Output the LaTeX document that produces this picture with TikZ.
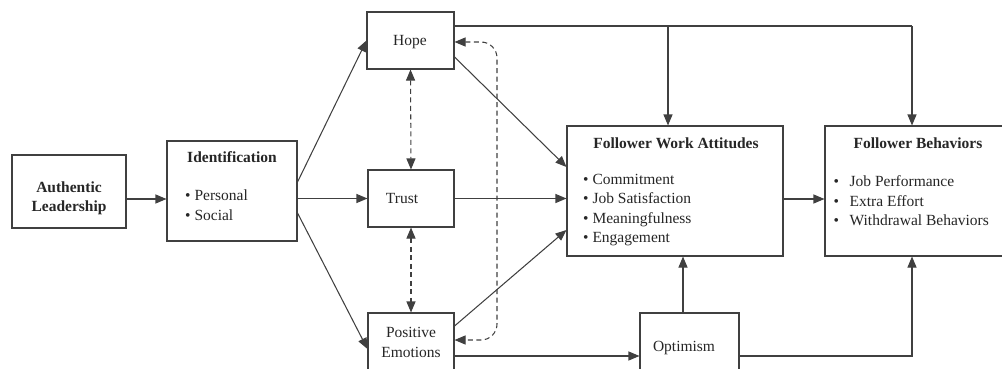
\documentclass[tikz,border=0pt]{standalone}
\usepackage{fontspec}
\setmainfont{Liberation Serif}
\usetikzlibrary{arrows.meta,calc}
\tikzset{
  ln/.style={draw=black!75, line width=1.05pt},
  arr/.style={ln, -{Triangle[length=11pt,width=9pt]}},
  darr/.style={ln, dash pattern=on 5pt off 3.5pt, {Triangle[length=11pt,width=9pt]}-{Triangle[length=11pt,width=9pt]}},
  box/.style={ln, fill=white, inner sep=0pt},
  txt/.style={text=black!85, font=\fontsize{15.5}{19.5}\selectfont, inner sep=0pt},
  ttl/.style={txt, font=\fontsize{15.5}{19.5}\selectfont\bfseries},
  lst/.style={txt, align=left, anchor=west},
}
\begin{document}
\begin{tikzpicture}[x=1pt,y=-1pt]
\useasboundingbox (0,0) rectangle (1002,369);
\begin{scope}
\clip (0,0) rectangle (1002,369);
% boxes
\node[box, minimum width=114pt, minimum height=73pt] (al) at (69,191.5) {};
\node[box, minimum width=130pt, minimum height=100pt] (id) at (232,191) {};
\node[box, minimum width=87pt, minimum height=57pt] (hope) at (410.5,40.5) {};
\node[box, minimum width=86pt, minimum height=57pt] (trust) at (411,198.5) {};
\node[box, minimum width=86pt, minimum height=64pt] (pe) at (411,345) {};
\node[box, minimum width=216pt, minimum height=130pt] (fwa) at (675,191) {};
\node[box, minimum width=178pt, minimum height=130pt] (fb) at (914,191) {};
\node[box, minimum width=99pt, minimum height=64pt] (opt) at (689.5,345) {};

% texts
\node[ttl, align=center] (alt) at (69,198.5) {Authentic\\Leadership};
\node[ttl] (idt) at (232,157) {Identification};
\node[lst] (idl) at (185,205) {• Personal\\• Social};
\node[txt] (hopet) at (410,42) {Hope};
\node[txt] (trustt) at (402,199) {Trust};
\node[txt, align=center] (pet) at (411,342.5) {Positive\\Emotions};
\node[txt] (optt) at (684,348) {Optimism};
\node[ttl] (fwat) at (676,143) {Follower Work Attitudes};
\node[lst] (fwal) at (583,210) {• Commitment\\• Job Satisfaction\\• Meaningfulness\\• Engagement};
\node[ttl] (fbt) at (918,143) {Follower Behaviors};
\node[lst] (fbl) at (833.5,201) {•\hspace{10.5pt}Job Performance\\•\hspace{10.5pt}Extra Effort\\•\hspace{10.5pt}Withdrawal Behaviors};

% junctions on the top line and the lower route
\coordinate (tj) at (668,26);
\coordinate (tk) at (912,26);
\coordinate (bk) at (912,356);

% connectors
\draw[arr] (al.east |- 0,199) -- (id.west |- 0,199);
\draw[arr] (id.east |- 0,182) -- (hope.west);
\draw[arr] (id.east |- trust) -- (trust.west);
\draw[arr] (id.east |- 0,213) -- (pe.west |- 0,349);
\draw[arr] (hope.east |- 0,57) -- (fwa.west |- 0,167);
\draw[arr] (trust.east) -- (fwa.west |- trust);
\draw[arr] (pe.east |- 0,326) -- (fwa.west |- 0,230);
\draw[arr] (fwa.east |- 0,199) -- (fb.west |- 0,199);
\draw[ln] (hope.east |- tj) -- (tk);
\draw[arr] (tj) -- (tj |- fwa.north);
\draw[arr] (tk) -- (tk |- fb.north);
\draw[darr] (hope.south) -- (trust.north);
\draw[darr] (trust.south) -- (pe.north);
\draw[darr, rounded corners=16pt] (hope.east |- 0,42) -- (497,42) -- (497,340) -- (pe.east |- 0,340);
\draw[arr] (pe.east |- 0,356) -- (opt.west |- 0,356);
\draw[arr] (opt.north -| 683,0) -- (fwa.south -| 683,0);
\draw[arr] (opt.east |- bk) -- (bk) -- (bk |- fb.south);
\end{scope}
\end{tikzpicture}
\end{document}
